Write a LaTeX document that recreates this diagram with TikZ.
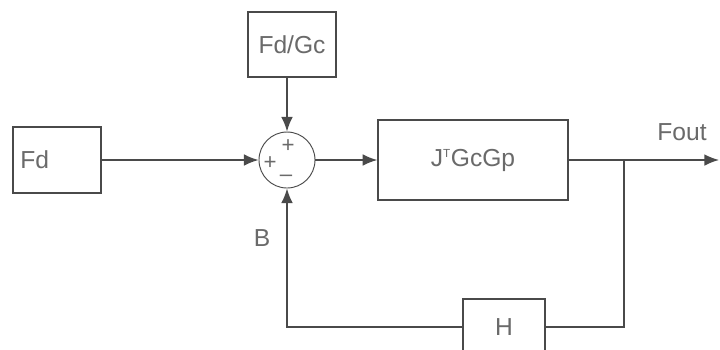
\documentclass[tikz,border=0pt]{standalone}
\usepackage{fontspec}
\setmainfont{Liberation Sans}
\usetikzlibrary{arrows.meta,positioning,calc}
\definecolor{Ink}{HTML}{6A6A6A}
\definecolor{Wire}{HTML}{4A4A4A}
\tikzset{
  block/.style={draw=Wire,line width=1.2pt,fill=white,text=Ink,align=center,inner sep=0pt,font=\fontsize{21}{24}\selectfont},
  sumnode/.style={circle,draw=Wire,line width=0.8pt,minimum size=16.8mm,inner sep=0pt},
  sign/.style={text=Ink,inner sep=0pt,font=\fontsize{19}{22}\selectfont},
  lbl/.style={text=Ink,inner sep=0pt,font=\fontsize{21}{24}\selectfont},
  wire/.style={line width=1.2pt,draw=Wire},
  arrow/.style={wire,-{Latex[length=4.4mm,width=3.5mm]}}
}

\begin{document}
\begin{tikzpicture}[x=0.3mm,y=-0.3mm]
\useasboundingbox[fill=white] (0,0) rectangle (720,349);
\node[block,minimum height=19.8mm,text width=22mm,inner xsep=2.2mm,align=left] (fd) at (57,160) {Fd};
\node[sumnode] (sum) at (287,160) {};
\node[block,minimum width=26.4mm,minimum height=19.5mm] (fdgc) at (292,44.5) {Fd/Gc};
\node[block,minimum width=57mm,minimum height=24mm] (plant) at (473,160) {J\textsuperscript{\fontsize{10}{10}\selectfont T}GcGp};
\node[block,minimum width=24.6mm,minimum height=16.8mm] (fb) at (504,327) {H};
\node[sign] (plusT) at (288,146) {+};
\node[sign] (plusL) at (270,163) {+};
\node[sign] (minus) at (286,178) {--};
\node[lbl] (fout) at (682,132) {Fout};
\node[lbl] (blbl) at (262,238) {B};
\coordinate (tap) at (624,160);
\coordinate (out) at (719,160);
\draw[arrow] (fd) -- (sum);
\draw[arrow] (fdgc.south -| sum.north) -- (sum.north);
\draw[arrow] (sum) -- (plant);
\draw[arrow] (plant) -- (out);
\draw[wire] (tap) |- (fb.east);
\draw[arrow] (fb.west) -| (sum.south);
\end{tikzpicture}
\end{document}
